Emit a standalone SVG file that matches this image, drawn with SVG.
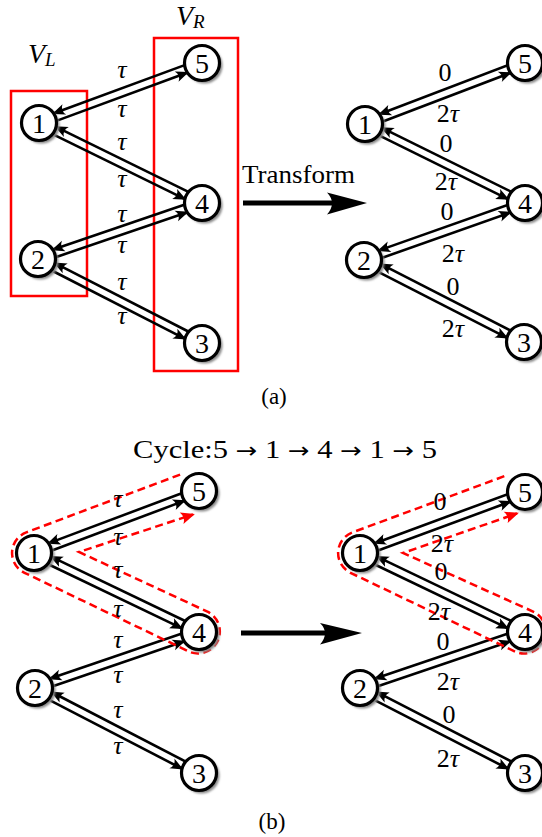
<svg xmlns="http://www.w3.org/2000/svg" width="542" height="837" viewBox="0 0 542 837">
<style>
text{font-family:"Liberation Serif","DejaVu Serif",serif;fill:#000}
.nd{fill:#fff;stroke:#000;stroke-width:3.2}
.sd{fill:#8a8a8a;filter:url(#blur)}
.num{font-size:28px;text-anchor:middle}
.lab{font-size:26px;text-anchor:middle}
.it{font-style:italic}
.ar{font-family:"DejaVu Sans",sans-serif;font-size:22px}
.e line{stroke:#000;stroke-width:2.6;marker-end:url(#ah)}
.box{fill:none;stroke:#f00;stroke-width:2.5}
.cyc{fill:none;stroke:#f00;stroke-width:2.5;stroke-dasharray:8 4.5}
.big{fill:#000;stroke:none}
</style>
<defs>
<filter id="blur" x="-40%" y="-40%" width="180%" height="180%"><feGaussianBlur stdDeviation="1.2"/></filter>
<marker id="ah" markerUnits="userSpaceOnUse" viewBox="-13 -7 17 14" markerWidth="17" markerHeight="14" refX="0" refY="0" orient="auto" overflow="visible"><path d="M2,0 L-11,-5.5 Q-6.5,0 -11,5.5 Z" fill="#000"/></marker>
<marker id="rh" markerUnits="userSpaceOnUse" viewBox="-14 -7 18 14" markerWidth="18" markerHeight="14" refX="0" refY="0" orient="auto" overflow="visible"><path d="M2,0 L-12,-6 Q-8,0 -12,6 Z" fill="#f00"/></marker>
</defs>

<!-- red boxes and set labels -->
<g id="boxes">
<rect class="box" x="11" y="91" width="76" height="205"/>
<rect class="box" x="154" y="38" width="84" height="333"/>
<text x="28" y="63" font-size="28" font-style="italic">V<tspan font-size="19" dy="3">L</tspan></text>
<text x="176" y="25" font-size="28" font-style="italic">V<tspan font-size="19" dy="3">R</tspan></text>
</g>

<!-- connectors -->
<g id="connectors">
<!-- (a) left -->
<g class="e" transform="translate(39,123) rotate(-20.21)"><line x1="161.7" y1="-4" x2="17.5" y2="-4"/><line x1="12" y1="4" x2="156.2" y2="4"/></g>
<g class="e" transform="translate(39,123) rotate(26.14)"><line x1="169.6" y1="-4" x2="17.5" y2="-4"/><line x1="12" y1="4" x2="164.1" y2="4"/></g>
<g class="e" transform="translate(38,259) rotate(-18.85)"><line x1="161.3" y1="-4" x2="17.5" y2="-4"/><line x1="12" y1="4" x2="155.8" y2="4"/></g>
<g class="e" transform="translate(38,259) rotate(27.12)"><line x1="172.3" y1="-4" x2="17.5" y2="-4"/><line x1="12" y1="4" x2="166.8" y2="4"/></g>
<!-- (a) right -->
<g class="e" transform="translate(365,124) rotate(-20.87)"><line x1="159.2" y1="-4" x2="17.5" y2="-4"/><line x1="12" y1="4" x2="153.7" y2="4"/></g>
<g class="e" transform="translate(365,124) rotate(26.28)"><line x1="166.4" y1="-4" x2="17.5" y2="-4"/><line x1="12" y1="4" x2="160.9" y2="4"/></g>
<g class="e" transform="translate(364,260) rotate(-19.49)"><line x1="158.8" y1="-4" x2="17.5" y2="-4"/><line x1="12" y1="4" x2="153.3" y2="4"/></g>
<g class="e" transform="translate(364,260) rotate(27.13)"><line x1="167.8" y1="-4" x2="17.5" y2="-4"/><line x1="12" y1="4" x2="162.3" y2="4"/></g>
<!-- (b) left -->
<g class="e" transform="translate(34,553) rotate(-20.59)"><line x1="164.3" y1="-4" x2="17.5" y2="-4"/><line x1="12" y1="4" x2="158.8" y2="4"/></g>
<g class="e" transform="translate(34,553) rotate(25.59)"><line x1="170.9" y1="-4" x2="17.5" y2="-4"/><line x1="12" y1="4" x2="165.4" y2="4"/></g>
<g class="e" transform="translate(35,688) rotate(-18.85)"><line x1="161.3" y1="-4" x2="17.5" y2="-4"/><line x1="12" y1="4" x2="155.8" y2="4"/></g>
<g class="e" transform="translate(35,688) rotate(27.4)"><line x1="172.7" y1="-4" x2="17.5" y2="-4"/><line x1="12" y1="4" x2="167.2" y2="4"/></g>
<!-- (b) right -->
<g class="e" transform="translate(360,553) rotate(-20.29)"><line x1="163.9" y1="-4" x2="17.5" y2="-4"/><line x1="12" y1="4" x2="158.4" y2="4"/></g>
<g class="e" transform="translate(360,553) rotate(25.59)"><line x1="170.9" y1="-4" x2="17.5" y2="-4"/><line x1="12" y1="4" x2="165.4" y2="4"/></g>
<g class="e" transform="translate(360,688) rotate(-18.75)"><line x1="162.2" y1="-4" x2="17.5" y2="-4"/><line x1="12" y1="4" x2="156.7" y2="4"/></g>
<g class="e" transform="translate(360,688) rotate(27.25)"><line x1="173.6" y1="-4" x2="17.5" y2="-4"/><line x1="12" y1="4" x2="168.1" y2="4"/></g>

<!-- cycle outlines -->
<path class="cyc" marker-end="url(#rh)" d="M180.1,474.6 L26.3,532.4 A22,22 0 0 0 24.5,572.8 L189.5,651.8 A22,22 0 0 0 208.5,612.2 L79,552 L193,514.5"/>
<path class="cyc" marker-end="url(#rh)" d="M504.3,476.2 L352.4,532.4 A22,22 0 0 0 350.5,572.8 L515.5,651.8 A22,22 0 0 0 534.5,612.2 L403,553 L517,513.5"/>

<!-- big transform arrows -->
<line x1="243" y1="203" x2="335" y2="203" stroke="#000" stroke-width="5"/>
<path class="big" d="M367,203 L327,192.5 Q337,203 327,214.5 Z"/>
<line x1="241" y1="633" x2="328" y2="633" stroke="#000" stroke-width="5"/>
<path class="big" d="M362,633 L320,623 Q330,633 320,644.5 Z"/>
</g>

<!-- edge labels -->
<g id="labels">
<g class="lab it">
<text x="122" y="78">τ</text><text x="122" y="117">τ</text>
<text x="122" y="150">τ</text><text x="122" y="187">τ</text>
<text x="122" y="222">τ</text><text x="122" y="253">τ</text>
<text x="122" y="290">τ</text><text x="122" y="324">τ</text>
<text x="118" y="507">τ</text><text x="118" y="545">τ</text>
<text x="118" y="578">τ</text><text x="118" y="617">τ</text>
<text x="118" y="648">τ</text><text x="118" y="683">τ</text>
<text x="118" y="718">τ</text><text x="118" y="754">τ</text>
</g>
<g class="lab">
<text x="445" y="81">0</text><text x="448" y="122">2<tspan class="it">τ</tspan></text>
<text x="446" y="152">0</text><text x="446" y="190">2<tspan class="it">τ</tspan></text>
<text x="447" y="220">0</text><text x="453" y="262">2<tspan class="it">τ</tspan></text>
<text x="453" y="295">0</text><text x="453" y="337">2<tspan class="it">τ</tspan></text>
<text x="440" y="510">0</text><text x="442" y="552">2<tspan class="it">τ</tspan></text>
<text x="441" y="580">0</text><text x="439" y="620">2<tspan class="it">τ</tspan></text>
<text x="443" y="650">0</text><text x="448" y="690">2<tspan class="it">τ</tspan></text>
<text x="449" y="723">0</text><text x="448" y="767">2<tspan class="it">τ</tspan></text>
</g>
<text x="242" y="183" font-size="26" textLength="113" lengthAdjust="spacingAndGlyphs">Transform</text>
<text x="133" y="458" font-size="26" textLength="304" lengthAdjust="spacingAndGlyphs">Cycle:5 <tspan class="ar">→</tspan> 1 <tspan class="ar">→</tspan> 4 <tspan class="ar">→</tspan> 1 <tspan class="ar">→</tspan> 5</text>
<text x="274" y="404" font-size="23" text-anchor="middle">(a)</text>
<text x="272" y="829" font-size="23" text-anchor="middle">(b)</text>
</g>

<!-- nodes (a) left -->
<g id="aL1" transform="translate(39,123)"><circle class="sd" cx="2.5" cy="2.5" r="18"/><circle class="nd" r="17.5"/><text class="num" y="10">1</text></g>
<g id="aL5" transform="translate(202,63)"><circle class="sd" cx="2.5" cy="2.5" r="18"/><circle class="nd" r="17.5"/><text class="num" y="10">5</text></g>
<g id="aL4" transform="translate(202,203)"><circle class="sd" cx="2.5" cy="2.5" r="18"/><circle class="nd" r="17.5"/><text class="num" y="10">4</text></g>
<g id="aL2" transform="translate(38,259)"><circle class="sd" cx="2.5" cy="2.5" r="18"/><circle class="nd" r="17.5"/><text class="num" y="10">2</text></g>
<g id="aL3" transform="translate(202,343)"><circle class="sd" cx="2.5" cy="2.5" r="18"/><circle class="nd" r="17.5"/><text class="num" y="10">3</text></g>
<!-- nodes (a) right -->
<g id="aR1" transform="translate(365,124)"><circle class="sd" cx="2.5" cy="2.5" r="18"/><circle class="nd" r="17.5"/><text class="num" y="10">1</text></g>
<g id="aR5" transform="translate(525,63)"><circle class="sd" cx="2.5" cy="2.5" r="18"/><circle class="nd" r="17.5"/><text class="num" y="10">5</text></g>
<g id="aR4" transform="translate(525,203)"><circle class="sd" cx="2.5" cy="2.5" r="18"/><circle class="nd" r="17.5"/><text class="num" y="10">4</text></g>
<g id="aR2" transform="translate(364,260)"><circle class="sd" cx="2.5" cy="2.5" r="18"/><circle class="nd" r="17.5"/><text class="num" y="10">2</text></g>
<g id="aR3" transform="translate(524,342)"><circle class="sd" cx="2.5" cy="2.5" r="18"/><circle class="nd" r="17.5"/><text class="num" y="10">3</text></g>
<!-- nodes (b) left -->
<g id="bL1" transform="translate(34,553)"><circle class="sd" cx="2.5" cy="2.5" r="18"/><circle class="nd" r="17.5"/><text class="num" y="10">1</text></g>
<g id="bL5" transform="translate(199,491)"><circle class="sd" cx="2.5" cy="2.5" r="18"/><circle class="nd" r="17.5"/><text class="num" y="10">5</text></g>
<g id="bL4" transform="translate(199,632)"><circle class="sd" cx="2.5" cy="2.5" r="18"/><circle class="nd" r="17.5"/><text class="num" y="10">4</text></g>
<g id="bL2" transform="translate(35,688)"><circle class="sd" cx="2.5" cy="2.5" r="18"/><circle class="nd" r="17.5"/><text class="num" y="10">2</text></g>
<g id="bL3" transform="translate(199,773)"><circle class="sd" cx="2.5" cy="2.5" r="18"/><circle class="nd" r="17.5"/><text class="num" y="10">3</text></g>
<!-- nodes (b) right -->
<g id="bR1" transform="translate(360,553)"><circle class="sd" cx="2.5" cy="2.5" r="18"/><circle class="nd" r="17.5"/><text class="num" y="10">1</text></g>
<g id="bR5" transform="translate(525,492)"><circle class="sd" cx="2.5" cy="2.5" r="18"/><circle class="nd" r="17.5"/><text class="num" y="10">5</text></g>
<g id="bR4" transform="translate(525,632)"><circle class="sd" cx="2.5" cy="2.5" r="18"/><circle class="nd" r="17.5"/><text class="num" y="10">4</text></g>
<g id="bR2" transform="translate(360,688)"><circle class="sd" cx="2.5" cy="2.5" r="18"/><circle class="nd" r="17.5"/><text class="num" y="10">2</text></g>
<g id="bR3" transform="translate(525,773)"><circle class="sd" cx="2.5" cy="2.5" r="18"/><circle class="nd" r="17.5"/><text class="num" y="10">3</text></g>
</svg>
